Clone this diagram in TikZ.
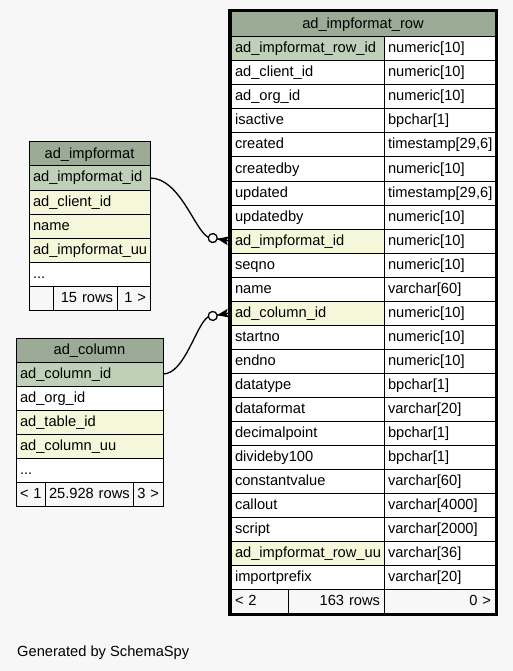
\documentclass[tikz,border=0pt]{standalone}
\usepackage{fontspec}
\setmainfont{Liberation Sans}
\definecolor{bg}{HTML}{F7F7F7}
\definecolor{hdr}{HTML}{9BAB96}
\definecolor{pk}{HTML}{BED1B8}
\definecolor{fk}{HTML}{F4F7DA}
\newcommand\sspyfont{\fontsize{14.67pt}{17pt}\selectfont}
\newcommand\cellbox[7]{%
  \pgfmathsetmacro\cbtw{#4-8}%
  \node[cellst, fill=#5, minimum width=#4pt, text width=\cbtw pt, align=#6] (#1) at (#2,-#3) {\mbox{#7}};}
\begin{document}
\begin{tikzpicture}[x=1pt,y=1pt,
  cellst/.style={anchor=north west, draw=black, line width=1pt, minimum height=24pt,
    inner xsep=4pt, inner ysep=0pt, outer sep=0pt, text height=10.5pt, text depth=2.5pt, font=\sspyfont},
  edgeline/.style={draw=black, line width=1.3pt}]
\fill[bg] (0,0) rectangle (513,-671);
\useasboundingbox (0,0) rectangle (513,-671);

% ad_impformat
\cellbox{ihd}{29}{142}{121}{hdr}{center}{ad\_impformat}
\cellbox{iid}{29}{166}{121}{pk}{left}{ad\_impformat\_id}
\cellbox{icl}{29}{190}{121}{fk}{left}{ad\_client\_id}
\cellbox{inm}{29}{214}{121}{fk}{left}{name}
\cellbox{iuu}{29}{238}{121}{fk}{left}{ad\_impformat\_uu}
\cellbox{idt}{29}{262}{121}{white}{left}{...}
\cellbox{ifa}{29}{286}{24}{bg}{left}{}
\cellbox{ifb}{53}{286}{64}{bg}{right}{15 rows}
\cellbox{ifc}{117}{286}{33}{bg}{right}{1 >}

% ad_column
\cellbox{chd}{16}{338}{147}{hdr}{center}{ad\_column}
\cellbox{cid}{16}{362}{147}{pk}{left}{ad\_column\_id}
\cellbox{cor}{16}{386}{147}{white}{left}{ad\_org\_id}
\cellbox{ctb}{16}{410}{147}{fk}{left}{ad\_table\_id}
\cellbox{cuu}{16}{434}{147}{fk}{left}{ad\_column\_uu}
\cellbox{cdt}{16}{458}{147}{white}{left}{...}
\cellbox{cfa}{16}{482}{29}{bg}{left}{< 1}
\cellbox{cfb}{45}{482}{88}{bg}{right}{25.928 rows}
\cellbox{cfc}{133}{482}{30}{bg}{right}{3 >}

% ad_impformat_row
\node[cellst, fill=hdr, minimum width=264pt, minimum height=25pt, text width=256pt, align=center] (rhd) at (231,-12) {ad\_impformat\_row};
\foreach \nm/\ty/\fl [count=\i] in {
  ad\_impformat\_row\_id/numeric[10]/pk,
  ad\_client\_id/numeric[10]/white,
  ad\_org\_id/numeric[10]/white,
  isactive/bpchar[1]/white,
  created/{timestamp[29,6]}/white,
  createdby/numeric[10]/white,
  updated/{timestamp[29,6]}/white,
  updatedby/numeric[10]/white,
  ad\_impformat\_id/numeric[10]/fk,
  seqno/numeric[10]/white,
  name/varchar[60]/white,
  ad\_column\_id/numeric[10]/fk,
  startno/numeric[10]/white,
  endno/numeric[10]/white,
  datatype/bpchar[1]/white,
  dataformat/varchar[20]/white,
  decimalpoint/bpchar[1]/white,
  divideby100/bpchar[1]/white,
  constantvalue/varchar[60]/white,
  callout/varchar[4000]/white,
  script/varchar[2000]/white,
  ad\_impformat\_row\_uu/varchar[36]/fk,
  importprefix/varchar[20]/white}{
  \pgfmathsetmacro\rowy{13+24*\i}
  \cellbox{rn\i}{231}{\rowy}{153}{\fl}{left}{\nm}
  \cellbox{rt\i}{384}{\rowy}{111}{white}{left}{\ty}
}
\cellbox{rfa}{231}{589}{57}{bg}{left}{< 2}
\cellbox{rfb}{288}{589}{96}{bg}{right}{163 rows}
\cellbox{rfc}{384}{589}{111}{bg}{right}{0 >}
\draw[line width=3pt] (229.5,-10.5) rectangle (496.5,-614.5);

% connector ends
\begin{scope}[shift={([xshift=-1.5pt]rn9.west)}, rotate=-10]
  \coordinate (c1) at (-21.5,0);
  \draw[edgeline, fill=bg] (-17,0) circle (4.5);
  \fill (-12.5,0) -- (-1,4.5) -- (-3.5,0) -- (-1,-4.5) -- cycle;
  \draw[edgeline] (-12.5,0) -- (0,0);
\end{scope}
\begin{scope}[shift={([xshift=-1.5pt]rn12.west)}, rotate=10]
  \coordinate (c2) at (-21.5,0);
  \draw[edgeline, fill=bg] (-17,0) circle (4.5);
  \fill (-12.5,0) -- (-1,4.5) -- (-3.5,0) -- (-1,-4.5) -- cycle;
  \draw[edgeline] (-12.5,0) -- (0,0);
\end{scope}
\draw[edgeline] (iid.east) .. controls (180,-178) and (195,-231) .. (c1);
\draw[edgeline] (cid.east) .. controls (185,-374) and (196,-324) .. (c2);

\node[anchor=base west, inner sep=0pt, font=\sspyfont] (gen) at (17,-656) {Generated by SchemaSpy};
\end{tikzpicture}
\end{document}
